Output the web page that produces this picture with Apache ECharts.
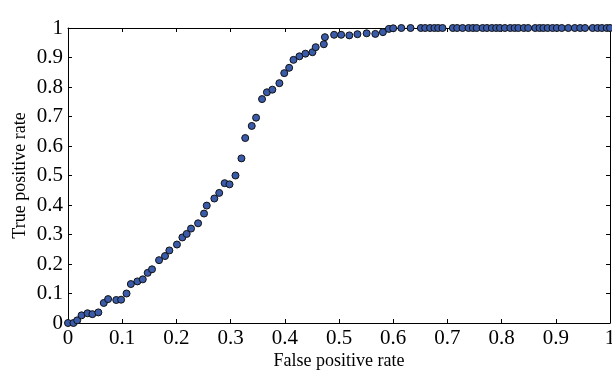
<!DOCTYPE html>
<html>
<head>
<meta charset="utf-8">
<script src="https://cdn.jsdelivr.net/npm/echarts@6/dist/echarts.min.js"></script>
<style>
  html, body { margin: 0; padding: 0; background: #fff; }
  #chart { width: 612px; height: 370px; }
</style>
</head>
<body>
<div id="chart"></div>
<script>
// ROC points
const fpr = [
  0.000, 0.010, 0.017, 0.025, 0.036, 0.045, 0.056, 0.066, 0.074, 0.089,
  0.098, 0.108, 0.116, 0.128, 0.138, 0.147, 0.155, 0.168, 0.179, 0.187,
  0.201, 0.211, 0.219, 0.227, 0.240, 0.251, 0.256, 0.270, 0.279, 0.289,
  0.298, 0.309, 0.320, 0.327, 0.339, 0.347, 0.358, 0.367, 0.377, 0.390,
  0.399, 0.408, 0.416, 0.427, 0.438, 0.451, 0.457, 0.472, 0.474, 0.491,
  0.504, 0.519, 0.534, 0.551, 0.567, 0.581, 0.592, 0.600, 0.615, 0.632,
  0.651, 0.659, 0.668, 0.676, 0.683, 0.691, 0.710, 0.718, 0.728, 0.739,
  0.747, 0.754, 0.765, 0.773, 0.782, 0.790, 0.797, 0.806, 0.816, 0.824,
  0.831, 0.841, 0.849, 0.862, 0.870, 0.877, 0.885, 0.894, 0.902, 0.911,
  0.923, 0.935, 0.945, 0.954, 0.968, 0.977, 0.985, 0.994, 1.000
];
const tpr = [
  0.000, 0.000, 0.009, 0.026, 0.033, 0.030, 0.036, 0.068, 0.081, 0.078,
  0.079, 0.100, 0.132, 0.141, 0.148, 0.170, 0.182, 0.213, 0.227, 0.246,
  0.266, 0.290, 0.302, 0.320, 0.338, 0.371, 0.398, 0.422, 0.441, 0.474,
  0.470, 0.500, 0.558, 0.627, 0.668, 0.696, 0.759, 0.782, 0.791, 0.813,
  0.847, 0.865, 0.892, 0.904, 0.913, 0.918, 0.935, 0.945, 0.969, 0.977,
  0.977, 0.975, 0.979, 0.982, 0.980, 0.986, 0.997, 0.999, 1.000, 1.000,
  1.000, 1.000, 1.000, 1.000, 1.000, 1.000, 1.000, 1.000, 1.000, 1.000,
  1.000, 1.000, 1.000, 1.000, 1.000, 1.000, 1.000, 1.000, 1.000, 1.000,
  1.000, 1.000, 1.000, 1.000, 1.000, 1.000, 1.000, 1.000, 1.000, 1.000,
  1.000, 1.000, 1.000, 1.000, 1.000, 1.000, 1.000, 1.000, 1.000
];
const xName = 'False positive rate';
const yName = 'True positive rate';

const font = '"Liberation Serif", "DejaVu Serif", serif';
const lineStyle = { color: '#000', width: 1 };

const baseAxis = (position, showLabel) => ({
    type: 'value',
    position: position,
    min: 0,
    max: 1,
    interval: 0.1,
    splitLine: { show: false },
    axisLine: { show: true, onZero: false, lineStyle: lineStyle },
    axisTick: { show: true, inside: true, length: 4, lineStyle: lineStyle },
    axisLabel: {
        show: showLabel,
        color: '#000',
        fontFamily: font,
        fontSize: 21,
        hideOverlap: false,
        formatter: v => String(+v.toFixed(1))
    }
});

const chart = echarts.init(document.getElementById('chart'), null, { renderer: 'canvas' });

const xBottom = Object.assign(baseAxis('bottom', true), {
    name: xName,
    nameLocation: 'middle',
    nameGap: 29,
    nameMoveOverlap: false,
    nameTextStyle: { color: '#000', fontFamily: font, fontSize: 18 }
});
xBottom.axisLabel.margin = 5;
const yLeft = Object.assign(baseAxis('left', true), {
    name: yName,
    nameLocation: 'middle',
    nameGap: 39,
    nameMoveOverlap: false,
    nameTextStyle: { color: '#000', fontFamily: font, fontSize: 18 }
});
yLeft.axisLabel.margin = 5;

chart.setOption({
    animation: false,
    backgroundColor: '#fff',
    grid: { left: 68, right: 2, top: 28, bottom: 47, containLabel: false, outerBoundsMode: 'none' },
    xAxis: [xBottom, baseAxis('top', false)],
    yAxis: [yLeft, baseAxis('right', false)],
    series: [{
        type: 'scatter',
        xAxisIndex: 0,
        yAxisIndex: 0,
        symbolSize: 7,
        clip: false,
        itemStyle: { color: '#3a5ba9', borderColor: '#111', borderWidth: 1, opacity: 1 },
        data: fpr.map((x, i) => [x, tpr[i]])
    }]
});
</script>
</body>
</html>
